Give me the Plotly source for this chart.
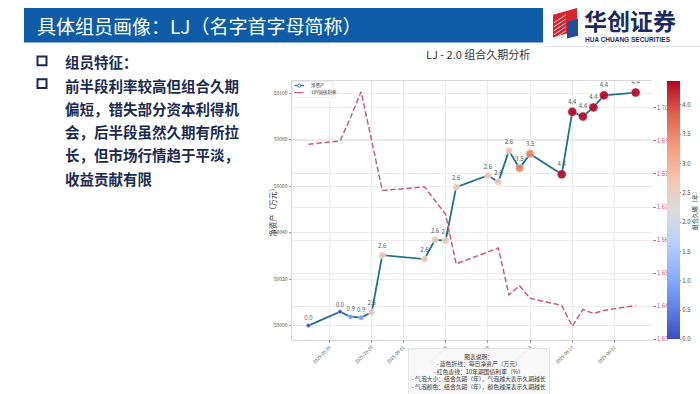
import plotly.graph_objects as go

W, H = 700, 394


def px(x):
    return x / W


def py(y):
    return 1 - y / H


# ---------------- data ----------------
dates = ["2025-05-23", "2025-05-26", "2025-05-27", "2025-05-28", "2025-05-29", "2025-05-30",
         "2025-06-03", "2025-06-04", "2025-06-05", "2025-06-06", "2025-06-09", "2025-06-10",
         "2025-06-11", "2025-06-12", "2025-06-13", "2025-06-16", "2025-06-17", "2025-06-18",
         "2025-06-19", "2025-06-20", "2025-06-23"]
net_assets = [50000.0, 50006.0, 50003.8, 50003.4, 50005.7, 50030.3, 50028.6, 50037.0,
              50036.5, 50059.6, 50064.6, 50061.8, 50075.3, 50067.7, 50073.9, 50065.1,
              50092.0, 50090.0, 50093.9, 50099.1, 50100.3]
yield_10y = [1.6890, 1.6900, 1.6971, 1.7049, 1.6900, 1.6750, 1.6761, 1.6719, 1.6678,
             1.6528, 1.6565, 1.6576, 1.6434, 1.6462, 1.6424, 1.6402, 1.6339, 1.6390,
             1.6378, 1.6387, 1.6402]
duration = [0.0, 0.0, 0.9, 0.9, 2.6, 2.6, 2.6, 2.6, 2.6, 2.6, 2.6, 2.6, 2.6, 3.5, 3.5,
            4.4, 4.4, 4.4, 4.4, 4.4, 4.4]
x_ticks = ["2025-05-25", "2025-05-29", "2025-06-01", "2025-06-05", "2025-06-09",
           "2025-06-13", "2025-06-17", "2025-06-21"]
left_ticks = [50000, 50020, 50040, 50060, 50080, 50100]
right_ticks = [1.63, 1.64, 1.65, 1.66, 1.67, 1.68, 1.69, 1.70]
cbar_ticks = [0.0, 0.5, 1.0, 1.5, 2.0, 2.5, 3.0, 3.5, 4.0]

bullet_title = "组员特征："
bullet_lines = ["前半段利率较高但组合久期", "偏短，错失部分资本利得机",
                "会，后半段虽然久期有所拉", "长，但市场行情趋于平淡，", "收益贡献有限"]
note_lines = ["图表说明：", "- 蓝色折线：每日净资产（万元）", "- 红色虚线：10年期国债利率（%）",
              "- 气泡大小：组合久期（年），气泡越大表示久期越长",
              "- 气泡颜色：组合久期（年），颜色越深表示久期越长"]

coolwarm = [[0.0, "rgb(59,76,192)"], [0.125, "rgb(98,130,234)"], [0.25, "rgb(141,176,254)"],
            [0.375, "rgb(184,208,249)"], [0.5, "rgb(221,220,220)"], [0.625, "rgb(245,196,173)"],
            [0.75, "rgb(244,154,123)"], [0.875, "rgb(222,96,77)"], [1.0, "rgb(180,4,38)"]]

NAVY = "#1b2a4e"
TEAL = "#23708c"
RED = "#cf5a7f"
CJK = "Noto Sans CJK SC, DejaVu Sans, sans-serif"

fig = go.Figure()

fig.add_trace(go.Scatter(
    x=dates, y=net_assets, name="净资产", mode="lines+markers+text",
    line=dict(color=TEAL, width=1.8),
    marker=dict(size=[4.2 + 1.1 * d for d in duration], color=duration, colorscale=coolwarm,
                cmin=0, cmax=4.4, opacity=0.9,
                line=dict(width=0.6, color="rgba(255,255,255,0.7)"),
                colorbar=dict(x=px(667), xanchor="left", y=py(212.5), yanchor="middle",
                              len=261 / H, lenmode="fraction", thickness=13, outlinewidth=0,
                              ypad=0, xpad=0, tickvals=cbar_ticks, tickformat=".1f",
                              ticks="outside", ticklen=1.5, tickcolor="#888",
                              tickfont=dict(size=6, color="#444"))),
    text=[f"{d:.1f}" for d in duration], textposition="top center",
    textfont=dict(size=6, color="#555"), showlegend=False,
))

fig.add_trace(go.Scatter(
    x=dates, y=yield_10y, name="10Y国债利率", yaxis="y2", mode="lines",
    line=dict(color=RED, width=1.5, dash="5.5px,2.6px"), showlegend=False,
))

axis_common = dict(showgrid=True, gridcolor="#ebebeb", gridwidth=0.8, zeroline=False,
                   showline=True, linecolor="#d9d9d9", linewidth=0.8,
                   ticks="outside", ticklen=2.5, tickcolor="#999")

fig.update_layout(
    width=W, height=H, autosize=False,
    margin=dict(l=0, r=0, t=0, b=0),
    paper_bgcolor="white", plot_bgcolor="white",
    font=dict(family=CJK),
    showlegend=False,
    xaxis=dict(domain=[px(292), px(652)], type="date",
               range=["2025-05-21 10:48", "2025-06-24 13:12"],
               tickvals=x_ticks, ticktext=x_ticks, tickangle=-45,
               tickfont=dict(size=4.5, color="#555"), mirror=True, **axis_common),
    yaxis=dict(domain=[py(343), py(82)], range=[49994.0, 50105.2],
               tickvals=left_ticks, tickformat="d", tickfont=dict(size=5, color="#555"),
               **axis_common),
    yaxis2=dict(overlaying="y", side="right", range=[1.6299, 1.7081],
                tickvals=right_ticks, tickformat=".2f",
                tickfont=dict(size=6, color=RED), showgrid=True, gridcolor="#ebebeb",
                gridwidth=0.8, zeroline=False, showline=False,
                ticks="outside", ticklen=2.5, tickcolor=RED),
)

shapes = []
annotations = []

# title bar
shapes.append(dict(type="rect", xref="paper", yref="paper", x0=px(24), x1=px(543),
                   y0=py(43), y1=py(8), fillcolor="#0e5ca8", line=dict(width=0), layer="below"))
annotations.append(dict(text="具体组员画像：LJ（名字首字母简称）", x=px(35), y=py(25.5),
                        xref="paper", yref="paper", xanchor="left", yanchor="middle",
                        showarrow=False, font=dict(size=19, color="white", family=CJK)))
# top thin line of chart picture
shapes.append(dict(type="line", xref="paper", yref="paper", x0=px(545), x1=px(700),
                   y0=py(47), y1=py(47), line=dict(color="#e3e3e3", width=1)))

# logo
shapes.append(dict(type="path", xref="paper", yref="paper",
                   path=f"M {px(553)} {py(15)} L {px(577)} {py(8)} L {px(577)} {py(31)} L {px(553)} {py(38)} Z",
                   fillcolor="#d8262f", line=dict(width=0)))
for k in range(5):
    yy = 19 + k * 4
    shapes.append(dict(type="line", xref="paper", yref="paper", x0=px(554), x1=px(566),
                       y0=py(yy + 4), y1=py(yy - 4), line=dict(color="white", width=0.8)))
shapes.append(dict(type="path", xref="paper", yref="paper",
                   path=f"M {px(567)} {py(22)} L {px(578)} {py(19)} L {px(578)} {py(36)} L {px(567)} {py(39)} Z",
                   fillcolor="#1f4f9c", line=dict(width=0)))
annotations.append(dict(text="<b>华创证券</b>", x=px(582), y=py(20), xref="paper", yref="paper",
                        xanchor="left", yanchor="middle", showarrow=False,
                        font=dict(size=23, color="#1b2a5c", family=CJK)))
annotations.append(dict(text="<b>HUA CHUANG SECURITIES</b>", x=px(583), y=py(39.5),
                        xref="paper", yref="paper", xanchor="left", yanchor="middle",
                        showarrow=False,
                        font=dict(size=6.5, color="#1b2a5c", family="Liberation Sans Narrow, Liberation Sans")))

# bullets + text
for yc in (61.5, 84.5):
    shapes.append(dict(type="rect", xref="paper", yref="paper", x0=px(37.5), x1=px(46.5),
                       y0=py(yc + 4.5), y1=py(yc - 4.5), line=dict(color=NAVY, width=2)))
annotations.append(dict(text=f"<b>{bullet_title}</b>", x=px(63), y=py(62), xref="paper",
                        yref="paper", xanchor="left", yanchor="middle", showarrow=False,
                        font=dict(size=14.5, color=NAVY, family=CJK)))
for i, line in enumerate(bullet_lines):
    annotations.append(dict(text=f"<b>{line}</b>", x=px(63), y=py(86 + i * 23.5), xref="paper",
                            yref="paper", xanchor="left", yanchor="middle", showarrow=False,
                            font=dict(size=14.5, color=NAVY, family=CJK)))

# chart title
annotations.append(dict(text="LJ - 2.0 组合久期分析", x=px(478), y=py(55), xref="paper",
                        yref="paper", xanchor="center", yanchor="middle", showarrow=False,
                        font=dict(size=11, color="#333", family=CJK)))
# y-axis title
annotations.append(dict(text="净资产（万元）", x=px(273), y=py(213), xref="paper", yref="paper",
                        xanchor="center", yanchor="middle", showarrow=False, textangle=-90,
                        font=dict(size=7.5, color="#333", family=CJK)))
# colorbar title
annotations.append(dict(text="组合久期（年）", x=px(694.5), y=py(212), xref="paper", yref="paper",
                        xanchor="center", yanchor="middle", showarrow=False, textangle=-90,
                        font=dict(size=6, color="#333", family=CJK)))

# legend (manual, tiny)
shapes.append(dict(type="rect", xref="paper", yref="paper", x0=px(292.5), x1=px(333),
                   y0=py(98.5), y1=py(82.5), line=dict(color="#dddddd", width=0.6),
                   fillcolor="rgba(255,255,255,0.9)"))
shapes.append(dict(type="line", xref="paper", yref="paper", x0=px(294.5), x1=px(304),
                   y0=py(86.5), y1=py(86.5), line=dict(color=TEAL, width=1.2)))
shapes.append(dict(type="circle", xref="paper", yref="paper", x0=px(297.6), x1=px(300.9),
                   y0=py(88.2), y1=py(84.8), line=dict(color=TEAL, width=0.8), fillcolor="white"))
shapes.append(dict(type="line", xref="paper", yref="paper", x0=px(294.5), x1=px(304),
                   y0=py(93.5), y1=py(93.5), line=dict(color=RED, width=1.2, dash="dash")))
annotations.append(dict(text="净资产", x=px(309), y=py(86.5), xref="paper", yref="paper",
                        xanchor="left", yanchor="middle", showarrow=False,
                        font=dict(size=4.5, color="#333", family=CJK)))
annotations.append(dict(text="10Y国债利率", x=px(309), y=py(93.5), xref="paper", yref="paper",
                        xanchor="left", yanchor="middle", showarrow=False,
                        font=dict(size=4.5, color="#333", family=CJK)))

# explanation box
annotations.append(dict(text="<br>".join(note_lines), x=px(478.5), y=py(352), xref="paper",
                        yref="paper", xanchor="center", yanchor="top", showarrow=False,
                        align="center", bgcolor="rgba(247,247,247,0.9)", bordercolor="#dedede",
                        borderwidth=0.8, borderpad=3,
                        font=dict(size=5.8, color="#333", family=CJK)))

fig.update_layout(shapes=shapes, annotations=annotations)
fig.write_html("out.html", config={"displayModeBar": False},
               post_script="document.body.style.margin='0px';document.body.style.overflow='hidden';")
